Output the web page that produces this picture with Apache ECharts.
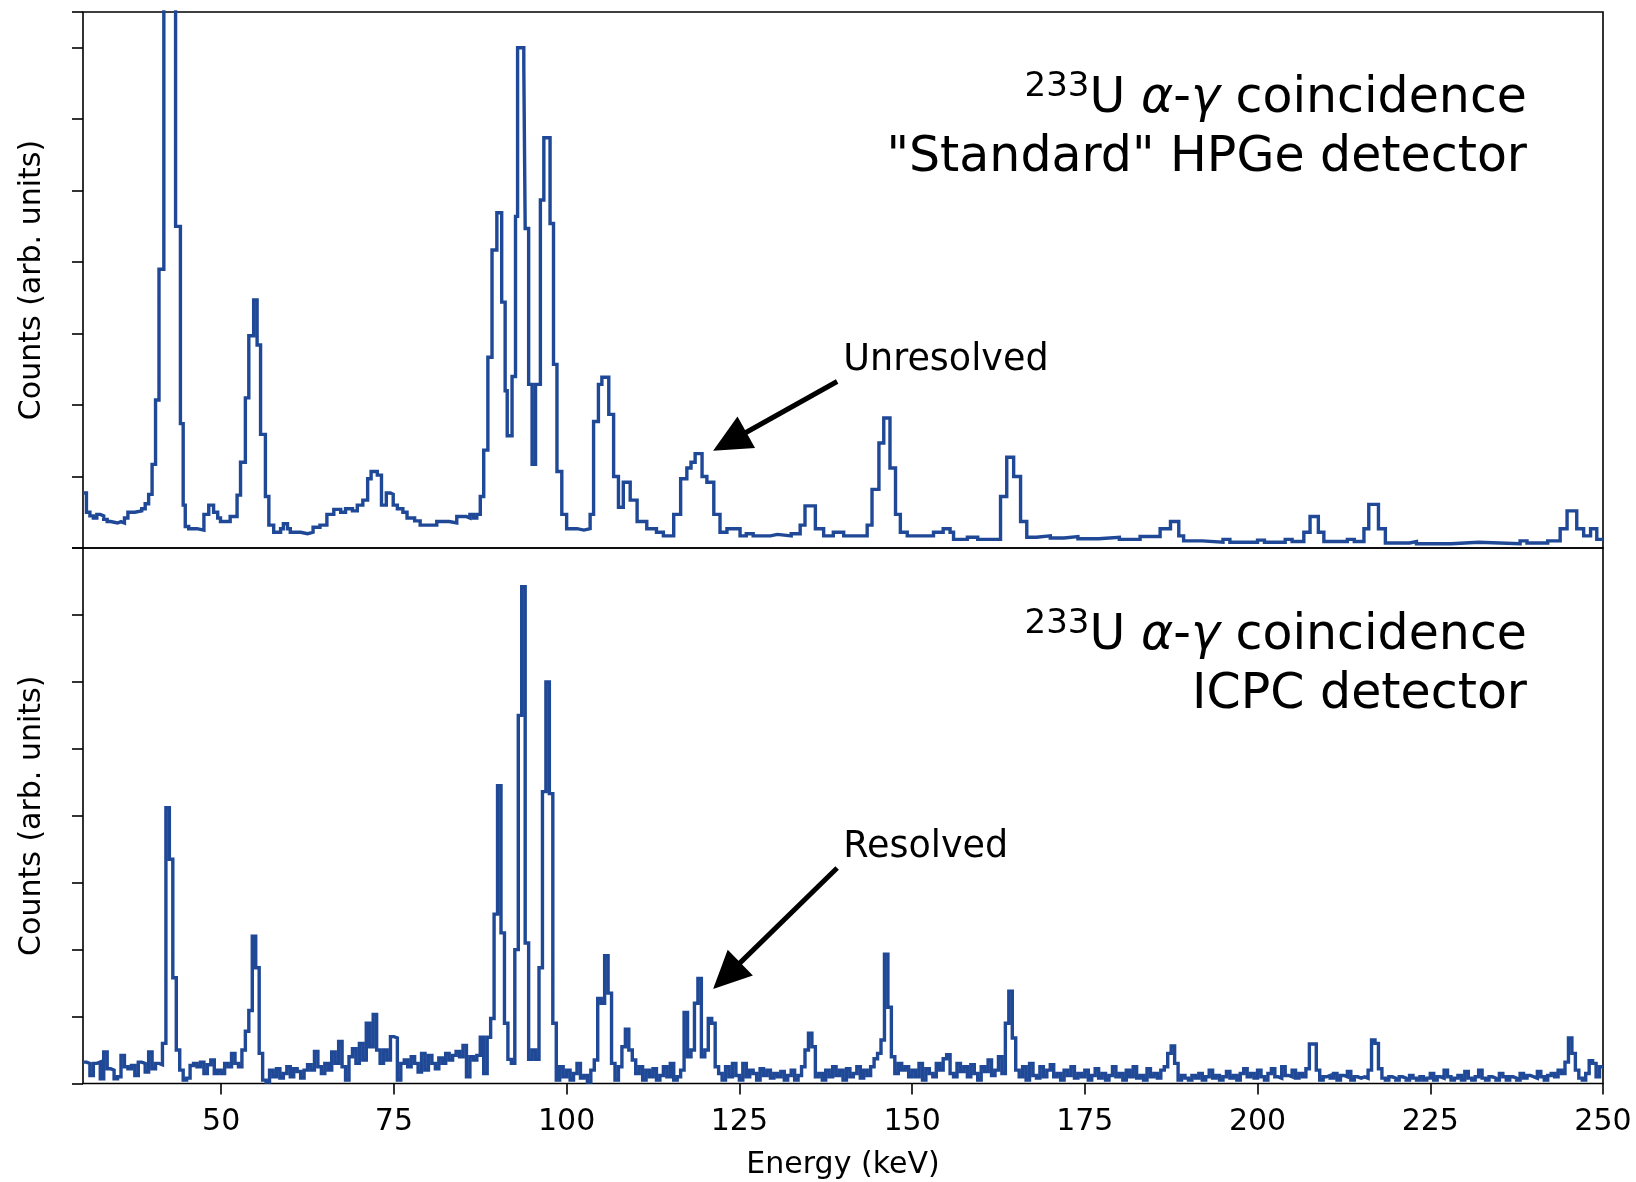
<!DOCTYPE html>
<html>
<head>
<meta charset="utf-8">
<script src="https://cdn.jsdelivr.net/npm/echarts@6/dist/echarts.min.js"></script>
<style>
  html, body { margin: 0; padding: 0; background: #ffffff; }
  #chart { width: 1636px; height: 1182px; }
</style>
</head>
<body>
<div id="chart"></div>
<script>
// Energy axis tick values (keV)
const energyTicks = [50, 75, 100, 125, 150, 175, 200, 225, 250];

// "Standard" HPGe spectrum: bin left edges (keV) and counts (arb. units)
const hpgeEdges = [
  30.0, 30.5, 31.0, 31.5, 32.0, 32.5, 33.0, 33.5, 34.0, 35.0,
  35.5, 36.0, 36.5, 37.5, 38.5, 39.0, 39.5, 40.0, 40.5, 41.0,
  41.7, 43.4, 44.1, 44.5, 44.8, 45.3, 46.5, 47.5, 48.2, 48.9,
  49.5, 49.9, 51.3, 52.3, 52.8, 53.5, 54.0, 54.7, 55.2, 55.7,
  56.4, 56.9, 57.6, 58.6, 59.0, 59.6, 60.0, 61.5, 62.5, 63.3,
  64.3, 65.3, 66.3, 67.3, 68.0, 69.0, 69.7, 70.5, 71.2, 71.7,
  72.6, 73.2, 73.9, 74.5, 74.9, 75.5, 76.3, 76.9, 78.0, 78.8,
  81.2, 83.0, 84.1, 85.5, 86.0, 86.5, 87.0, 87.5, 88.0, 88.6,
  89.2, 89.9, 90.6, 91.1, 91.4, 92.1, 92.6, 92.9, 93.8, 94.0,
  94.5, 95.0, 95.5, 96.2, 96.7, 97.6, 98.1, 98.6, 99.3, 100.0,
  101.5, 102.5, 103.4, 103.9, 104.6, 105.1, 106.1, 106.8, 107.5, 108.2,
  109.2, 110.2, 111.6, 113.0, 114.0, 115.5, 116.5, 117.4, 118.0, 118.6,
  119.6, 120.3, 121.3, 122.2, 123.2, 125.1, 126.0, 127.0, 129.5, 130.5,
  132.5, 133.8, 134.5, 136.0, 137.2, 138.6, 140.1, 143.5, 144.2, 145.2,
  145.9, 146.8, 147.6, 148.3, 149.3, 153.1, 154.5, 155.5, 156.0, 158.0,
  159.5, 162.8, 163.7, 164.7, 165.7, 166.6, 168.0, 170.0, 172.0, 174.0,
  177.0, 180.0, 183.0, 185.9, 187.4, 188.6, 189.3, 192.0, 195.0, 196.0,
  200.0, 201.0, 204.0, 205.0, 206.7, 207.6, 208.8, 209.6, 213.0, 214.0,
  215.4, 216.1, 217.5, 218.5, 222.0, 223.0, 228.0, 232.0, 238.0, 239.0,
  242.0, 243.8, 244.8, 246.2, 247.2, 248.2, 249.1, 250.0
];
const hpgeCounts = [
  0.77, 0.50, 0.45, 0.42, 0.47, 0.45, 0.40, 0.37, 0.35, 0.37,
  0.35, 0.42, 0.50, 0.52, 0.55, 0.62, 0.75, 1.17, 2.07, 3.90,
  12.0, 4.50, 1.74, 0.60, 0.30, 0.27, 0.25, 0.47, 0.60, 0.50,
  0.42, 0.37, 0.44, 0.74, 1.20, 2.10, 2.97, 3.47, 2.84, 1.59,
  0.72, 0.32, 0.22, 0.27, 0.34, 0.27, 0.22, 0.20, 0.22, 0.29,
  0.32, 0.47, 0.54, 0.50, 0.55, 0.52, 0.60, 0.67, 0.97, 1.07,
  1.02, 0.60, 0.77, 0.75, 0.60, 0.55, 0.50, 0.42, 0.38, 0.32,
  0.37, 0.35, 0.44, 0.42, 0.47, 0.42, 0.47, 0.72, 1.37, 2.67,
  4.17, 4.69, 3.44, 2.20, 1.57, 2.40, 4.64, 7.00, 6.74, 4.47,
  2.29, 1.17, 2.29, 4.87, 5.74, 4.54, 2.57, 1.07, 0.47, 0.27,
  0.25, 0.27, 0.47, 1.77, 2.29, 2.39, 1.87, 1.00, 0.57, 0.92,
  0.67, 0.37, 0.27, 0.22, 0.17, 0.47, 0.97, 1.12, 1.20, 1.32,
  1.00, 0.92, 0.47, 0.22, 0.27, 0.17, 0.20, 0.17, 0.19, 0.17,
  0.20, 0.32, 0.59, 0.27, 0.17, 0.22, 0.17, 0.32, 0.82, 1.47,
  1.82, 1.12, 0.47, 0.22, 0.17, 0.22, 0.27, 0.22, 0.12, 0.15,
  0.12, 0.72, 1.27, 1.00, 0.37, 0.15, 0.17, 0.14, 0.16, 0.13,
  0.15, 0.12, 0.16, 0.27, 0.37, 0.17, 0.10, 0.08, 0.12, 0.08,
  0.11, 0.08, 0.12, 0.09, 0.22, 0.44, 0.22, 0.09, 0.12, 0.09,
  0.27, 0.61, 0.27, 0.07, 0.09, 0.06, 0.08, 0.06, 0.10, 0.07,
  0.10, 0.27, 0.52, 0.27, 0.17, 0.27, 0.12, 0.12
];

// ICPC spectrum: counts (arb. units) in 0.5 keV bins starting at 30 keV
const icpcFirstEdge = 30;
const icpcBinWidth = 0.5;
const icpcCounts = [
  0.32, 0.30, 0.12, 0.30, 0.32, 0.07, 0.47, 0.22, 0.20, 0.07,   // 30
  0.10, 0.42, 0.25, 0.22, 0.27, 0.12, 0.32, 0.30, 0.17, 0.47,   // 35
  0.22, 0.30, 0.28, 0.60, 4.12, 3.35, 1.58, 0.50, 0.20, 0.05,   // 40
  0.08, 0.27, 0.30, 0.25, 0.32, 0.15, 0.28, 0.35, 0.15, 0.20,   // 45
  0.15, 0.30, 0.25, 0.45, 0.30, 0.25, 0.50, 0.78, 1.09, 2.20,   // 50
  1.73, 0.45, 0.05, 0.02, 0.20, 0.10, 0.22, 0.08, 0.15, 0.25,   // 55
  0.10, 0.22, 0.18, 0.08, 0.20, 0.28, 0.20, 0.48, 0.25, 0.15,   // 60
  0.30, 0.20, 0.47, 0.30, 0.63, 0.25, 0.05, 0.40, 0.52, 0.30,   // 65
  0.60, 0.35, 0.90, 0.55, 1.03, 0.50, 0.30, 0.50, 0.35, 0.70,   // 70
  0.68, 0.05, 0.30, 0.35, 0.25, 0.40, 0.30, 0.17, 0.45, 0.20,   // 75
  0.42, 0.30, 0.22, 0.38, 0.30, 0.45, 0.35, 0.42, 0.48, 0.40,   // 80
  0.57, 0.10, 0.40, 0.35, 0.42, 0.69, 0.15, 0.69, 0.97, 2.53,   // 85
  4.45, 2.25, 0.90, 0.36, 0.30, 2.00, 5.50, 7.42, 2.10, 0.36,   // 90
  0.50, 0.36, 1.73, 4.36, 6.00, 4.33, 0.90, 0.05, 0.25, 0.10,   // 95
  0.20, 0.05, 0.15, 0.30, 0.08, 0.12, 0.02, 0.20, 0.35, 1.27,   // 100
  1.20, 1.91, 1.35, 0.30, 0.05, 0.25, 0.55, 0.81, 0.50, 0.35,   // 105
  0.15, 0.25, 0.05, 0.20, 0.10, 0.22, 0.05, 0.12, 0.25, 0.10,   // 110
  0.30, 0.05, 0.10, 0.20, 1.06, 0.40, 0.50, 1.20, 1.57, 0.40,   // 115
  0.50, 0.97, 0.90, 0.25, 0.15, 0.05, 0.25, 0.10, 0.30, 0.12,   // 120
  0.05, 0.30, 0.10, 0.20, 0.15, 0.05, 0.22, 0.12, 0.20, 0.08,   // 125
  0.15, 0.10, 0.18, 0.05, 0.12, 0.20, 0.05, 0.12, 0.25, 0.50,   // 130
  0.75, 0.55, 0.10, 0.15, 0.05, 0.20, 0.10, 0.25, 0.12, 0.20,   // 135
  0.05, 0.22, 0.10, 0.15, 0.25, 0.08, 0.20, 0.12, 0.25, 0.37,   // 140
  0.45, 0.65, 1.93, 1.14, 0.40, 0.15, 0.30, 0.20, 0.25, 0.10,   // 145
  0.20, 0.10, 0.30, 0.05, 0.22, 0.15, 0.10, 0.30, 0.20, 0.37,   // 150
  0.43, 0.15, 0.10, 0.30, 0.18, 0.25, 0.10, 0.28, 0.15, 0.05,   // 155
  0.25, 0.18, 0.35, 0.12, 0.20, 0.40, 0.15, 0.90, 1.38, 0.68,   // 160
  0.20, 0.10, 0.25, 0.05, 0.30, 0.12, 0.08, 0.25, 0.10, 0.20,   // 165
  0.28, 0.10, 0.15, 0.05, 0.20, 0.12, 0.25, 0.08, 0.15, 0.10,   // 170
  0.20, 0.05, 0.12, 0.22, 0.08, 0.15, 0.05, 0.12, 0.25, 0.10,   // 175
  0.15, 0.05, 0.20, 0.10, 0.25, 0.08, 0.12, 0.05, 0.22, 0.10,   // 180
  0.15, 0.08, 0.20, 0.25, 0.45, 0.56, 0.30, 0.05, 0.12, 0.08,   // 185
  0.05, 0.12, 0.08, 0.15, 0.05, 0.10, 0.20, 0.08, 0.12, 0.05,   // 190
  0.10, 0.18, 0.08, 0.12, 0.05, 0.15, 0.22, 0.10, 0.15, 0.08,   // 195
  0.20, 0.10, 0.05, 0.15, 0.22, 0.10, 0.08, 0.25, 0.12, 0.10,   // 200
  0.20, 0.08, 0.15, 0.10, 0.22, 0.59, 0.59, 0.20, 0.05, 0.10,   // 205
  0.12, 0.08, 0.15, 0.05, 0.12, 0.10, 0.18, 0.05, 0.10, 0.08,   // 210
  0.10, 0.08, 0.20, 0.65, 0.60, 0.22, 0.08, 0.05, 0.10, 0.08,   // 215
  0.05, 0.10, 0.08, 0.05, 0.12, 0.08, 0.05, 0.10, 0.05, 0.08,   // 220
  0.15, 0.05, 0.10, 0.08, 0.20, 0.10, 0.05, 0.08, 0.12, 0.05,   // 225
  0.18, 0.08, 0.05, 0.10, 0.20, 0.08, 0.05, 0.10, 0.08, 0.05,   // 230
  0.15, 0.10, 0.05, 0.10, 0.08, 0.05, 0.15, 0.08, 0.12, 0.10,   // 235
  0.08, 0.18, 0.10, 0.05, 0.12, 0.15, 0.10, 0.20, 0.15, 0.32,   // 240
  0.68, 0.45, 0.20, 0.08, 0.05, 0.15, 0.34, 0.30, 0.10, 0.25    // 245
];

// Step points [edge, counts]; the last bin is closed at its right edge
function hpgePoints() {
  return hpgeEdges.map((e, i) => [e, hpgeCounts[i]]);
}
function icpcPoints() {
  const pts = icpcCounts.map((c, i) => [icpcFirstEdge + i * icpcBinWidth, c]);
  pts.push([icpcFirstEdge + icpcCounts.length * icpcBinWidth, icpcCounts[icpcCounts.length - 1]]);
  return pts;
}

// Arrow annotations in data coordinates of each panel
const notes = [
  { grid: 0, text: 'Unresolved', tail: [139.15, 2.33], tip: [121.2, 1.36], anchor: [140.05, 2.62] },
  { grid: 1, text: 'Resolved',   tail: [139.15, 3.22], tip: [121.2, 1.41], anchor: [140.05, 3.53] }
];

const FONT = 'DejaVu Sans';
const LINE = '#1f4896';
const GRID_LEFT = 83, GRID_W = 1520;

const chart = echarts.init(document.getElementById('chart'), null, { renderer: 'canvas' });

const yCommon = {
  type: 'value', min: 0, interval: 1,
  axisLine: { show: false },
  axisTick: { show: true, inside: false, length: 11, lineStyle: { color: '#000', width: 1.6 } },
  axisLabel: { show: false },
  splitLine: { show: false },
  name: 'Counts (arb. units)', nameLocation: 'middle', nameGap: 36, nameRotate: 90,
  nameTextStyle: { fontFamily: FONT, fontSize: 30, color: '#000' }
};

const option = {
  animation: false,
  backgroundColor: '#ffffff',
  grid: [
    { left: GRID_LEFT, top: 12, width: GRID_W, height: 536, show: true, borderColor: '#000', borderWidth: 1.6, backgroundColor: 'transparent' },
    { left: GRID_LEFT, top: 548, width: GRID_W, height: 535.5, show: true, borderColor: '#000', borderWidth: 1.6, backgroundColor: 'transparent' }
  ],
  xAxis: [
    { gridIndex: 0, type: 'value', min: 30, max: 250,
      axisLine: { show: false }, axisTick: { show: false }, axisLabel: { show: false }, splitLine: { show: false } },
    { gridIndex: 1, type: 'value', min: 30, max: 250,
      axisLine: { show: false },
      axisTick: { show: true, inside: false, length: 11, customValues: energyTicks, lineStyle: { color: '#000', width: 1.6 } },
      axisLabel: { show: true, customValues: energyTicks, margin: 24, fontFamily: FONT, fontSize: 30, color: '#000' },
      splitLine: { show: false },
      name: 'Energy (keV)', nameLocation: 'middle', nameGap: 67,
      nameTextStyle: { fontFamily: FONT, fontSize: 30, color: '#000' } }
  ],
  yAxis: [
    Object.assign({}, yCommon, { gridIndex: 0, max: 7.5 }),
    Object.assign({}, yCommon, { gridIndex: 1, max: 8 })
  ],
  series: [
    { type: 'line', xAxisIndex: 0, yAxisIndex: 0, step: 'end', symbol: 'none', clip: true,
      lineStyle: { color: LINE, width: 3.4, join: 'miter' }, data: hpgePoints() },
    { type: 'line', xAxisIndex: 1, yAxisIndex: 1, step: 'end', symbol: 'none', clip: true,
      lineStyle: { color: LINE, width: 3.4, join: 'miter' }, data: icpcPoints() }
  ]
};
chart.setOption(option);

// Panel captions with superscript mass number and italic Greek letters
const captionRich = {
  sup: { fontFamily: FONT, fontSize: 34, lineHeight: 34, verticalAlign: 'top', fill: '#000' },
  n:   { fontFamily: FONT, fontSize: 49, lineHeight: 59, fill: '#000' },
  it:  { fontFamily: FONT, fontSize: 49, lineHeight: 59, fontStyle: 'italic', fill: '#000' }
};
function caption(y, second) {
  return {
    type: 'text', x: 1527, y: y, z: 10,
    style: {
      text: '{sup|233}{n|U }{it|α}{n|-}{it|γ}{n| coincidence}\n{n|' + second + '}',
      rich: captionRich, align: 'right', verticalAlign: 'top',
      font: '49px "' + FONT + '"'
    }
  };
}

function arrowShapes(n) {
  const p0 = chart.convertToPixel({ gridIndex: n.grid }, n.tail);
  const p1 = chart.convertToPixel({ gridIndex: n.grid }, n.tip);
  const a = chart.convertToPixel({ gridIndex: n.grid }, n.anchor);
  const dx = p1[0] - p0[0], dy = p1[1] - p0[1];
  const len = Math.hypot(dx, dy);
  const ux = dx / len, uy = dy / len;
  const headL = 38, headW = 18;
  const bx = p1[0] - ux * headL, by = p1[1] - uy * headL;
  return [
    { type: 'line', z: 10, shape: { x1: p0[0], y1: p0[1], x2: bx + ux * 4, y2: by + uy * 4 },
      style: { stroke: '#000', lineWidth: 5 } },
    { type: 'polygon', z: 10, shape: { points: [[p1[0], p1[1]], [bx - uy * headW, by + ux * headW], [bx + uy * headW, by - ux * headW]] },
      style: { fill: '#000' } },
    { type: 'text', z: 10, x: a[0], y: a[1],
      style: { text: n.text, fontFamily: FONT, fontSize: 36.5, fill: '#000', align: 'left', verticalAlign: 'middle' } }
  ];
}

const graphics = [caption(70, '"Standard" HPGe detector'), caption(607, 'ICPC detector')];
notes.forEach(n => arrowShapes(n).forEach(g => graphics.push(g)));
chart.setOption({ graphic: graphics });
</script>
</body>
</html>
